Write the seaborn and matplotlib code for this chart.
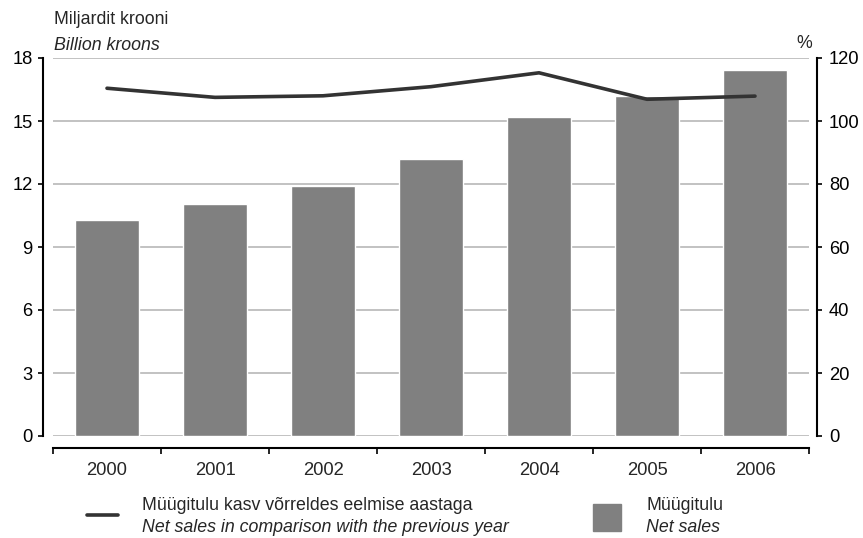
import matplotlib
matplotlib.use("Agg")
import matplotlib.pyplot as plt
import numpy as np
import pandas as pd
import seaborn as sns
from matplotlib.lines import Line2D
from matplotlib.patches import Rectangle

years = ["2000", "2001", "2002", "2003", "2004", "2005", "2006"]
net_sales = [10.3, 11.05, 11.9, 13.2, 15.2, 16.2, 17.45]
growth_pct = [110.4, 107.5, 108.0, 110.9, 115.3, 106.9, 107.9]

W, H = 863, 538
BAR_COLOR = "#808080"
LINE_COLOR = "#333333"
GRID_COLOR = "#b8b8b8"
TICK_FS = 13.2
TEXT_FS = 12.8


def fx(px):
    return px / W


def fy(py):
    return 1 - py / H


def main() -> None:
    sns.set_style("white")
    plt.rcParams["font.family"] = ["Liberation Sans", "DejaVu Sans"]

    df = pd.DataFrame({"year": years, "sales": net_sales, "growth": growth_pct})
    df["pos"] = np.arange(len(df))

    fig = plt.figure(figsize=(W / 100, H / 100), dpi=100)
    ax = fig.add_axes([fx(53), fy(436), fx(809) - fx(53), fy(58) - fy(436)])

    sns.barplot(data=df, x="year", y="sales", color=BAR_COLOR, width=0.59,
                saturation=1, ax=ax, zorder=2)
    ax.set_xlim(-0.5, len(years) - 0.5)
    ax.set_ylim(0, 18)
    ax.set_yticks(np.arange(0, 19, 3))
    ax.set_xlabel("")
    ax.set_ylabel("")
    ax.yaxis.grid(True, color=GRID_COLOR, lw=1.2, zorder=0)
    ax.set_axisbelow(True)

    for s in ["top", "right"]:
        ax.spines[s].set_visible(False)
    ax.spines["left"].set_position(("outward", 7.2))
    ax.spines["left"].set_linewidth(1.5)
    ax.spines["left"].set_color("black")
    ax.spines["bottom"].set_position(("outward", 8.6))
    ax.spines["bottom"].set_linewidth(1.5)
    ax.spines["bottom"].set_color("black")

    ax.tick_params(axis="y", which="major", direction="out", length=3.6, width=1.2,
                   pad=4, labelsize=TICK_FS, colors="black", left=True)
    ax.tick_params(axis="x", which="major", length=0, pad=10, labelsize=TICK_FS)
    ax.set_xticks(np.arange(-0.5, len(years), 1), minor=True)
    ax.tick_params(axis="x", which="minor", direction="out", length=4, width=1.2,
                   bottom=True, color="black")

    ax2 = ax.twinx()
    sns.lineplot(data=df, x="pos", y="growth", color=LINE_COLOR, lw=2.6, ax=ax2,
                 zorder=3)
    ax2.set_ylim(0, 120)
    ax2.set_yticks(np.arange(0, 121, 20))
    ax2.set_xlim(-0.5, len(years) - 0.5)
    ax2.set_xlabel("")
    ax2.set_ylabel("")
    for s in ["top", "left", "bottom"]:
        ax2.spines[s].set_visible(False)
    ax2.spines["right"].set_position(("outward", 5.8))
    ax2.spines["right"].set_linewidth(1.5)
    ax2.spines["right"].set_color("black")
    ax2.tick_params(axis="y", direction="out", length=3.6, width=1.2, pad=5,
                    labelsize=TICK_FS, right=True, colors="black")
    ax2.grid(False)

    fig.text(fx(54), fy(19), "Miljardit krooni", fontsize=TEXT_FS, va="center", ha="left")
    fig.text(fx(54), fy(45), "Billion kroons", fontsize=TEXT_FS, style="italic",
             va="center", ha="left")
    fig.text(fx(804), fy(44), "%", fontsize=TEXT_FS, va="center", ha="center")

    # legend
    fig.add_artist(Line2D([fx(87), fx(118)], [fy(515), fy(515)], color=LINE_COLOR,
                          lw=2.6, transform=fig.transFigure))
    fig.text(fx(142), fy(505), "Müügitulu kasv võrreldes eelmise aastaga",
             fontsize=TEXT_FS, va="center", ha="left")
    fig.text(fx(142), fy(527), "Net sales in comparison with the previous year",
             fontsize=TEXT_FS, style="italic", va="center", ha="left")
    fig.add_artist(Rectangle((fx(593), fy(531)), fx(621) - fx(593), fy(504) - fy(531),
                             color=BAR_COLOR, transform=fig.transFigure))
    fig.text(fx(646), fy(505), "Müügitulu", fontsize=TEXT_FS, va="center", ha="left")
    fig.text(fx(646), fy(527), "Net sales", fontsize=TEXT_FS, style="italic",
             va="center", ha="left")

    fig.savefig("out.png", dpi=100)
    plt.close(fig)


if __name__ == "__main__":
    main()
